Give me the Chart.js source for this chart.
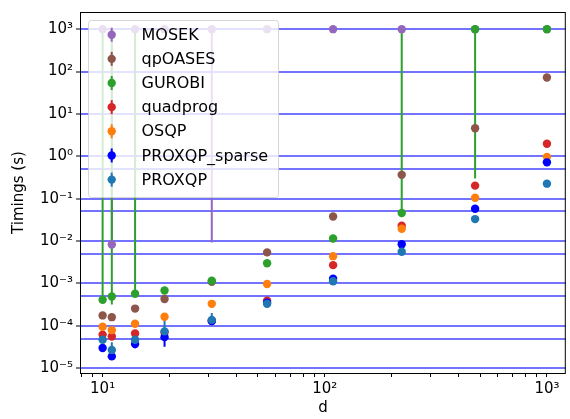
<!DOCTYPE html>
<html>
<head>
<meta charset="utf-8">
<title>Timings</title>
<script src="https://cdn.jsdelivr.net/npm/chart.js@4"></script>
<style>body{margin:0;background:#fff}</style>
</head>
<body>
<canvas id="chart" width="570" height="419"></canvas>
<script>
// problem sizes (x axis)
const dims = [10, 11, 14, 19, 31, 55, 109, 222, 475, 1000];

// timings in seconds
const mosek        = [1000, 8.3e-3, 1000, 1000, 1000, 1000, 1000, 1000, 1000, 1000];
const qpoases      = [1.76e-4, 1.6e-4, 2.55e-4, 4.3e-4, 1.1e-3, 5.4e-3, 3.8e-2, 0.365, 4.6, 72.6];
const gurobi       = [4.1e-4, 4.9e-4, 5.7e-4, 6.8e-4, 1.16e-3, 3.0e-3, 1.15e-2, 4.6e-2, 1000, 1000];
const quadprog     = [6.2e-5, 5.6e-5, 6.6e-5, 7.0e-5, 1.3e-4, 3.9e-4, 2.7e-3, 2.3e-2, 0.203, 1.98];
const osqp         = [9.5e-5, 7.9e-5, 1.12e-4, 1.63e-4, 3.3e-4, 9.7e-4, 4.4e-3, 1.95e-2, 0.105, 0.97];
const proxqpSparse = [3.0e-5, 1.9e-5, 3.7e-5, 5.4e-5, 1.3e-4, 3.5e-4, 1.3e-3, 8.4e-3, 5.8e-2, 0.72];
const proxqp       = [4.7e-5, 2.7e-5, 4.7e-5, 7.4e-5, 1.38e-4, 3.3e-4, 1.13e-3, 5.6e-3, 3.3e-2, 0.226];

// error bar ends (null = no visible bar)
const mosekLo  = [null, null, null, null, 9.3e-3, null, null, null, null, null];
const mosekHi  = [null, 1000, null, null, null, null, null, null, null, null];
const gurobiLo = [null, 3.2e-4, null, null, null, null, null, null, 0.3, null];
const gurobiHi = [1000, 1000, 1000, null, null, null, null, 1000, null, null];
const sparseLo = [null, null, 2.95e-5, 3.2e-5, null, null, null, null, null, null];
const proxqpHi = [null, 4.1e-5, null, 1.5e-4, 2.0e-4, null, null, null, null, null];

const names  = ['MOSEK', 'qpOASES', 'GUROBI', 'quadprog', 'OSQP', 'PROXQP_sparse', 'PROXQP'];
const colors = ['#9467bd', '#8c564b', '#2ca02c', '#d62728', '#ff7f0e', '#0000ff', '#1f77b4'];
const values = [mosek, qpoases, gurobi, quadprog, osqp, proxqpSparse, proxqp];
const lows   = [mosekLo, null, gurobiLo, null, null, sparseLo, null];
const highs  = [mosekHi, null, gurobiHi, null, null, null, proxqpHi];

// tick positions
const xTicks = [8, 9, 10, 20, 30, 40, 50, 60, 70, 80, 90, 100, 200, 300, 400, 500, 600, 700, 800, 900, 1000];
const yTicks = [1e-5, 5e-5, 1e-4, 5e-4, 1e-3, 5e-3, 1e-2, 5e-2, 1e-1, 5e-1, 1, 10, 100, 1000];

const SUP = {'-': '\u207B', '0': '\u2070', '1': '\u00B9', '2': '\u00B2', '3': '\u00B3',
  '4': '\u2074', '5': '\u2075', '6': '\u2076', '7': '\u2077', '8': '\u2078', '9': '\u2079'};

function decadeLabel(v) {
  const e = Math.log10(v);
  if (Math.abs(e - Math.round(e)) > 1e-9) return '';
  return '10' + String(Math.round(e)).split('').map(c => SUP[c]).join('');
}

// all error bars go underneath all markers
const errorBars = {
  id: 'errorBars',
  beforeDatasetsDraw(chart) {
    const {ctx, chartArea: a} = chart;
    const xs = chart.scales.x, ys = chart.scales.y;
    ctx.save();
    ctx.beginPath();
    ctx.rect(a.left, a.top, a.right - a.left, a.bottom - a.top);
    ctx.clip();
    ctx.lineWidth = 2;
    chart.data.datasets.forEach(ds => {
      if (!ds.errLo && !ds.errHi) return;
      ctx.strokeStyle = ds.backgroundColor;
      ds.data.forEach((p, i) => {
        const lo = ds.errLo ? ds.errLo[i] : null;
        const hi = ds.errHi ? ds.errHi[i] : null;
        if (lo == null && hi == null) return;
        const px = xs.getPixelForValue(p.x);
        ctx.beginPath();
        ctx.moveTo(px, ys.getPixelForValue(lo == null ? p.y : lo));
        ctx.lineTo(px, ys.getPixelForValue(hi == null ? p.y : hi));
        ctx.stroke();
      });
    });
    ctx.restore();
  }
};

const frameAndLegend = {
  id: 'frameAndLegend',
  afterDraw(chart) {
    const {ctx, chartArea: a} = chart;
    ctx.save();
    // axes frame
    ctx.strokeStyle = '#000';
    ctx.lineWidth = 1;
    ctx.strokeRect(a.left + 0.5, a.top + 0.5, a.right - a.left - 1, a.bottom - a.top);

    // legend
    const x0 = a.left + 8, y0 = a.top + 8, w = 190, h = 177;
    ctx.beginPath();
    ctx.roundRect(x0 + 0.5, y0 + 0.5, w, h, 3);
    ctx.fillStyle = 'rgba(255,255,255,0.8)';
    ctx.fill();
    ctx.strokeStyle = 'rgba(204,204,204,0.8)';
    ctx.stroke();
    ctx.font = '16px "DejaVu Sans"';
    ctx.textBaseline = 'middle';
    chart.data.datasets.forEach((ds, i) => {
      const cy = y0 + 14.7 + i * 24.15;
      const mx = x0 + 23.7;
      ctx.strokeStyle = ds.backgroundColor;
      ctx.lineWidth = 2;
      ctx.beginPath();
      ctx.moveTo(mx, cy - 7);
      ctx.lineTo(mx, cy + 7);
      ctx.stroke();
      ctx.fillStyle = ds.backgroundColor;
      ctx.beginPath();
      ctx.arc(mx, cy, 4.2, 0, Math.PI * 2);
      ctx.fill();
      ctx.fillStyle = '#000';
      ctx.fillText(ds.label, x0 + 53.5, cy + 1);
    });
    ctx.restore();
  }
};

Chart.defaults.font.family = '"DejaVu Sans"';
Chart.defaults.font.size = 15;
Chart.defaults.color = '#000';

new Chart(document.getElementById('chart'), {
  type: 'scatter',
  data: {
    datasets: names.map((name, k) => ({
      label: name,
      data: dims.map((d, i) => ({x: d, y: values[k][i]})),
      errLo: lows[k],
      errHi: highs[k],
      order: names.length - k, // later series drawn on top
      backgroundColor: colors[k],
      borderColor: colors[k],
      pointRadius: 4.2,
      pointBorderWidth: 0,
      pointHoverRadius: 4.2,
    })),
  },
  options: {
    responsive: false,
    animation: false,
    events: [],
    layout: {padding: {top: 5, right: 2, left: 0, bottom: 0}},
    plugins: {legend: {display: false}, tooltip: {enabled: false}},
    scales: {
      x: {
        type: 'logarithmic',
        min: 7.91,
        max: 1216,
        afterBuildTicks: s => { s.ticks = xTicks.map(v => ({value: v})); },
        afterFit: s => { s.height = 46; },
        ticks: {autoSkip: false, maxRotation: 0, padding: 3, callback: v => decadeLabel(v)},
        grid: {drawOnChartArea: false, tickLength: 4, tickColor: '#000'},
        border: {display: false},
        title: {display: true, text: 'd', padding: {top: 0, bottom: 2}},
      },
      y: {
        type: 'logarithmic',
        min: 7.7e-6,
        max: 2540,
        afterBuildTicks: s => { s.ticks = yTicks.map(v => ({value: v})); },
        afterFit: s => { s.width = 80; },
        ticks: {autoSkip: false, padding: 3, callback: v => decadeLabel(v)},
        grid: {
          color: 'rgba(0,0,255,0.55)',
          lineWidth: 2,
          tickLength: 4,
          tickColor: c => decadeLabel(c.tick.value) ? '#000' : 'rgba(0,0,0,0)',
          tickWidth: 1,
        },
        border: {display: false},
        title: {display: true, text: 'Timings (s)', padding: {top: 10, bottom: 0}},
      },
    },
  },
  plugins: [errorBars, frameAndLegend],
});
</script>
</body>
</html>
